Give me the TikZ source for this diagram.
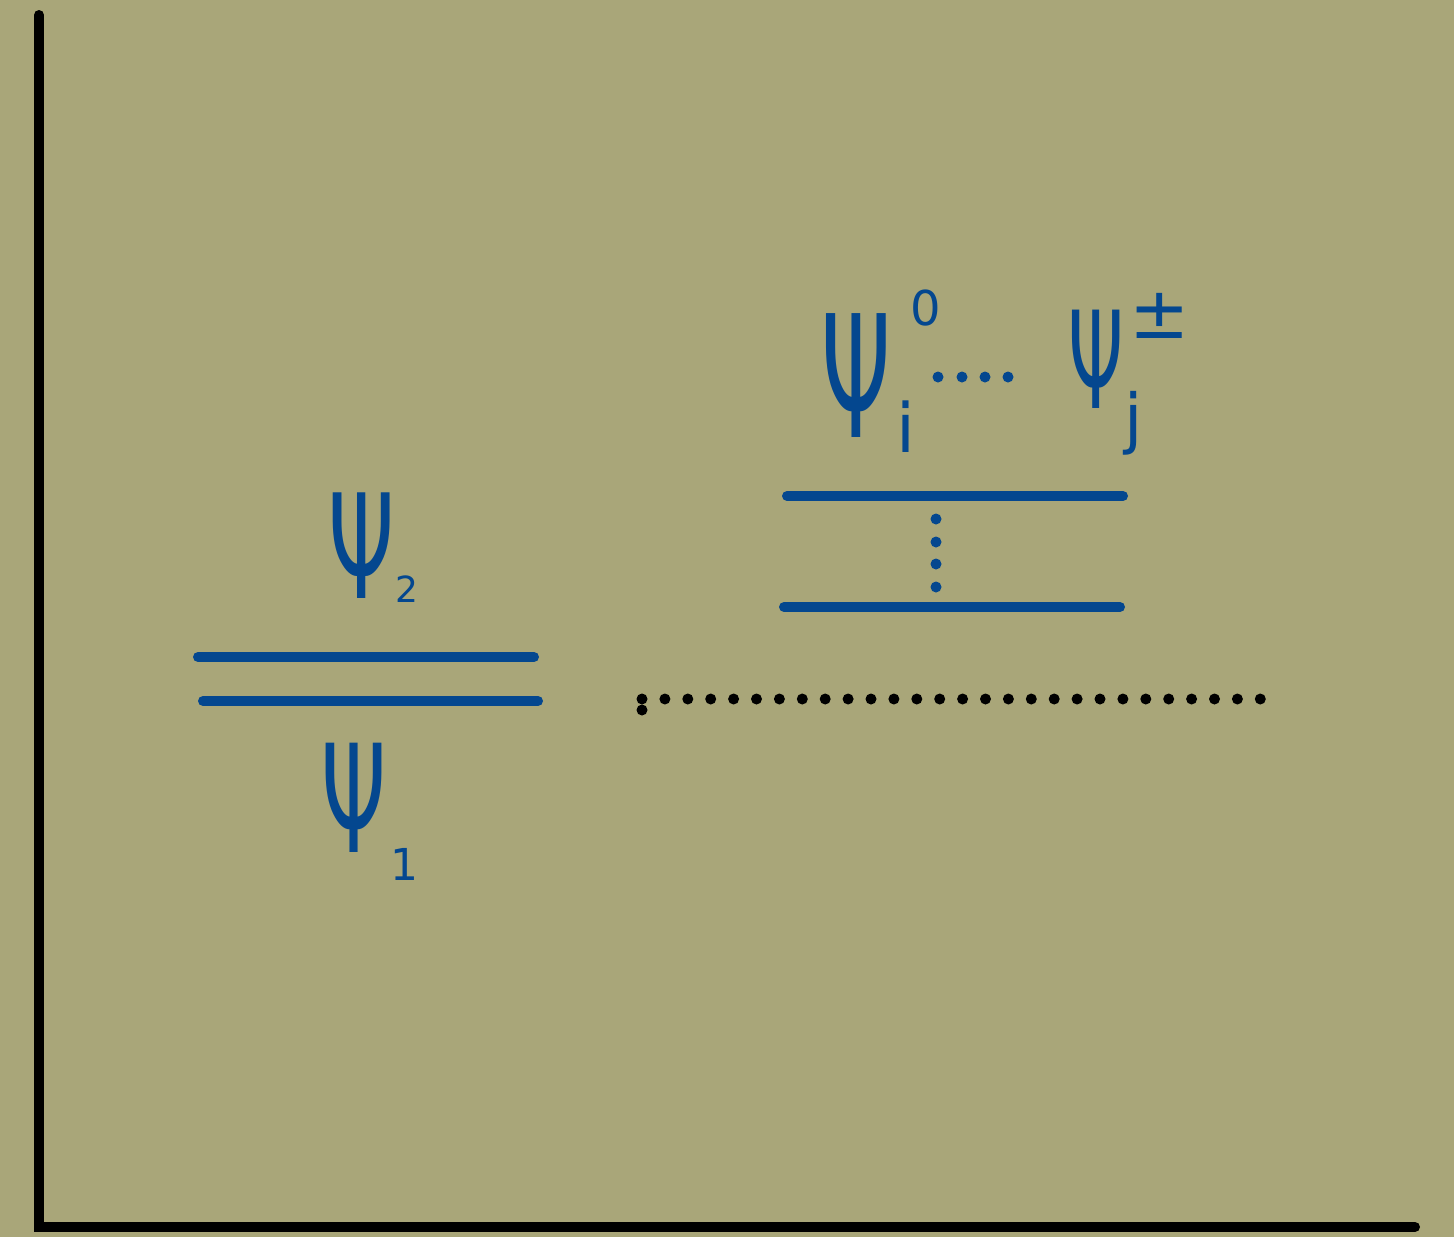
\documentclass[tikz,border=0pt]{standalone}
\usepackage{fontspec}
\usepackage{graphicx}
\newfontfamily\hand{DejaVu Sans}
\definecolor{bgc}{RGB}{169,166,121}
\definecolor{ink}{RGB}{4,71,143}
\tikzset{
  level/.style={draw=ink, line width=10pt, line cap=round},
  axis/.style={draw=black, line width=10pt, line cap=round},
  psi/.style={text=ink, inner sep=0pt, anchor=base},
}
\newcommand\fs[1]{\hand\fontsize{#1}{#1}\selectfont}
\begin{document}
\begin{tikzpicture}[x=1pt,y=-1pt]
\fill[bgc] (0,0) rectangle (1454,1237);
\useasboundingbox (0,0) rectangle (1454,1237);
% axes
\coordinate (top) at (39,15);
\coordinate (origin) at (39,1227);
\coordinate (right) at (1415,1227);
\draw[axis] (top) -- (origin) -- (right);
% left double level
\coordinate (a1) at (198,657); \coordinate (a2) at (534,657);
\coordinate (b1) at (203,701); \coordinate (b2) at (538,701);
\draw[level] (a1) -- (a2);
\draw[level] (b1) -- (b2);
\node[psi] (psi2) at (362,598) {\fs{145}\scalebox{0.58}[1]{Ψ}};
\node[psi] (sub2) at (407,602) {\fs{36}2};
\node[psi] (psi1) at (354,852) {\fs{150}\scalebox{0.55}[1]{Ψ}};
\node[psi] (sub1) at (404,880) {\fs{44}1};
% right levels
\coordinate (c1) at (787,496); \coordinate (c2) at (1123,496);
\coordinate (d1) at (784,607); \coordinate (d2) at (1120,607);
\draw[level] (c1) -- (c2);
\draw[level] (d1) -- (d2);
\foreach \y in {519,542,564,587} \fill[ink] (936,\y) circle (5.5pt);
\node[psi] (psii) at (856,437) {\fs{170}\scalebox{0.52}[1]{Ψ}};
\node[psi] (subi) at (906,452) {\fs{68}i};
\node[psi] (supi) at (926,325) {\fs{48}0};
\foreach \x in {938,962,985,1008} \fill[ink] (\x,377) circle (5.5pt);
\node[psi] (psij) at (1096,408) {\fs{135}\scalebox{0.52}[1]{Ψ}};
\node[psi] (subj) at (1134,441) {\fs{66}j};
\node[psi] (supj) at (1160,338) {\fs{72}±};
% dotted reference line
\foreach \k in {0,...,27} \fill[black] ({642+22.9*\k},699) circle (5.5pt);
\fill[black] (642,710) circle (5.5pt);
\end{tikzpicture}
\end{document}
